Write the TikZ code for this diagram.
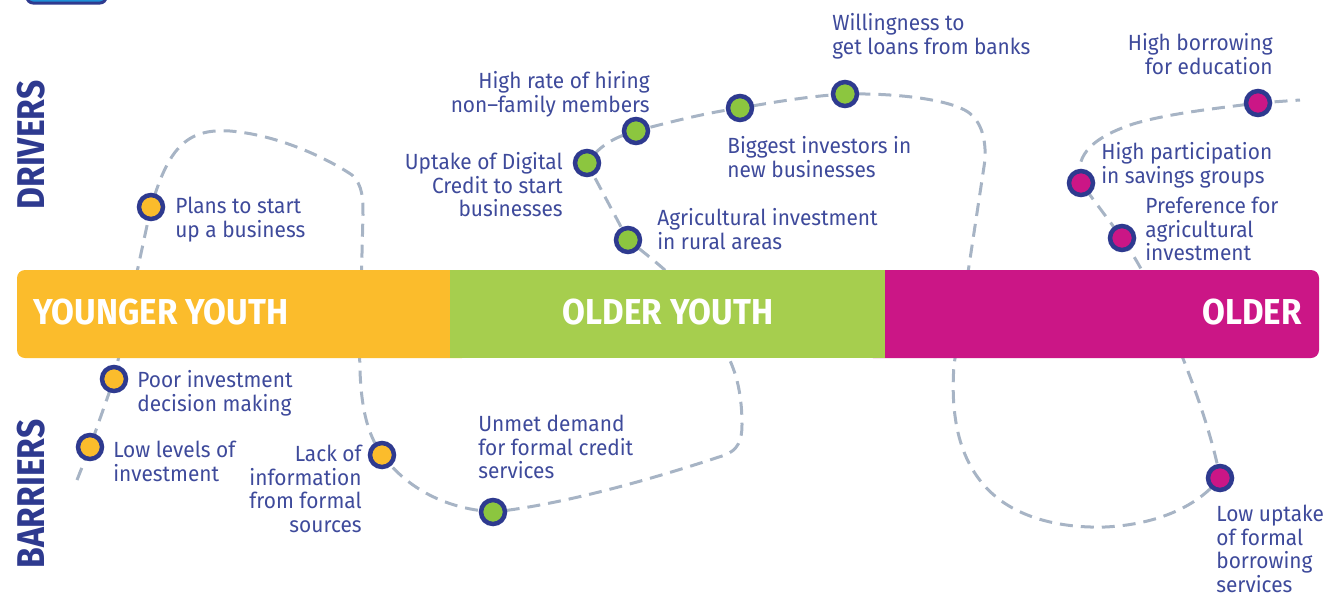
\documentclass[tikz,border=0pt]{standalone}
\usepackage{fontspec}
\setmainfont{Fira Sans}[FakeStretch=0.95]
\newfontfamily\headfont{Fira Sans}[FakeStretch=0.87]
\newfontfamily\barfont{Fira Sans}[FakeStretch=0.92]
\usetikzlibrary{backgrounds}
\definecolor{YYellow}{HTML}{FBBC2C}
\definecolor{OYGreen}{HTML}{A6CE4E}
\definecolor{OMagenta}{HTML}{CB1686}
\definecolor{DotGreen}{HTML}{8CC63F}
\definecolor{RingBlue}{HTML}{2E3A8F}
\definecolor{TextBlue}{HTML}{3E4A9B}
\definecolor{TrailGrey}{HTML}{A7B4C5}
\definecolor{TabBlue}{HTML}{1F8FD6}
\tikzset{
    milestone/.style = {draw=RingBlue, circle, line width=0.09cm,
        inner sep=0pt,
        minimum size=0.48cm},
    note/.style = {text=TextBlue, inner sep=0pt, font=\fontsize{12.5}{13.4}\selectfont},
    trail/.style = {draw=TrailGrey, line width=0.06cm, dash pattern=on 0.26cm off 0.16cm},
    agehead/.style = {text=white, inner sep=0pt, font=\barfont\bfseries\fontsize{20.5}{24}\selectfont},
    sidehead/.style = {text=RingBlue, inner sep=0pt, rotate=90, font=\headfont\bfseries\fontsize{22}{26}\selectfont}
}

\begin{document}
\begin{tikzpicture}[x=0.02cm,y=-0.02cm]
            \useasboundingbox (0,0) rectangle (1326,599);
            \begin{scope}
            \clip (0,0) rectangle (1326,599);
            \draw[RingBlue, fill=TabBlue, line width=0.06cm, rounded corners=0.12cm] (27,-20) rectangle (106,3);
            \end{scope}
            \fill[YYellow, rounded corners=0.16cm] (17,270) rectangle (470,358);
            \fill[OMagenta, rounded corners=0.16cm] (865,270) rectangle (1319,358);
            \fill[OYGreen] (450,270) rectangle (885,358);
            \node[agehead, anchor=west] (younger) at (33,312) {YOUNGER YOUTH};
            \node[agehead] (olderyouth) at (668,312) {OLDER YOUTH};
            \node[agehead, anchor=east] (older) at (1302,312) {OLDER};
            \node[sidehead] (drivers) at (31,145) {DRIVERS};
            \node[sidehead] (barriers) at (31,494) {BARRIERS};
            \node[milestone, fill=YYellow] (plans) at (151,207) {};
            \node[milestone, fill=YYellow] (poor) at (114,379) {};
            \node[milestone, fill=YYellow] (lowlev) at (90,447) {};
            \node[milestone, fill=YYellow] (lack) at (382,455) {};
            \node[milestone, fill=DotGreen] (uptake) at (587,163) {};
            \node[milestone, fill=DotGreen] (hiring) at (636,131) {};
            \node[milestone, fill=DotGreen] (biggest) at (740,108) {};
            \node[milestone, fill=DotGreen] (willing) at (845,94) {};
            \node[milestone, fill=DotGreen] (agri) at (628,240) {};
            \node[milestone, fill=DotGreen] (unmet) at (493,512) {};
            \node[milestone, fill=OMagenta] (borrow) at (1258,103) {};
            \node[milestone, fill=OMagenta] (partic) at (1081,183) {};
            \node[milestone, fill=OMagenta] (pref) at (1122,238) {};
            \node[milestone, fill=OMagenta] (lowup) at (1220,478) {};
            \coordinate (trailstart) at (77,480);
            \coordinate (trailend) at (1300,100);
            \begin{scope}[on background layer]
            \draw[trail] (trailstart) -- (lowlev.center) -- (poor.center) -- (plans.center)
                .. controls (168,150) and (185,128) .. (230,131)
                .. controls (280,135) and (330,160) .. (352,175)
                .. controls (363,185) and (363,200) .. (363,215)
                -- (360,330)
                .. controls (358,400) and (365,430) .. (lack.center)
                .. controls (405,485) and (440,508) .. (unmet.center)
                .. controls (560,505) and (650,480) .. (725,455)
                .. controls (738,450) and (742,440) .. (742,425)
                .. controls (742,390) and (735,370) .. (726,352)
                .. controls (705,305) and (680,280) .. (agri.center)
                -- (uptake.center)
                .. controls (600,145) and (615,137) .. (hiring.center)
                .. controls (670,122) and (705,113) .. (biggest.center)
                .. controls (775,102) and (810,96) .. (willing.center)
                .. controls (900,93) and (950,100) .. (968,112)
                .. controls (982,122) and (986,140) .. (985,160)
                -- (954,365)
                .. controls (950,420) and (960,470) .. (1000,500)
                .. controls (1030,522) and (1070,528) .. (1105,527)
                .. controls (1150,525) and (1195,510) .. (lowup.center)
                .. controls (1210,420) and (1165,300) .. (pref.center)
                -- (partic.center)
                .. controls (1075,160) and (1085,140) .. (1133,124)
                .. controls (1170,113) and (1220,108) .. (borrow.center)
                -- (trailend);
            \end{scope}
            \node[note, anchor=north west, align=left] (plansT) at (175,197) {Plans to start\\up a business};
            \node[note, anchor=north west, align=left] (poorT) at (137,370) {Poor investment\\decision making};
            \node[note, anchor=north west, align=left] (lowlevT) at (113,441) {Low levels of\\investment};
            \node[note, anchor=north east, align=right] (lackT) at (362,445) {Lack of\\information\\from formal\\sources};
            \node[note, anchor=north west, align=left] (unmetT) at (478,415) {Unmet demand\\for formal credit\\services};
            \node[note, anchor=north east, align=right] (uptakeT) at (563,152) {Uptake of Digital\\Credit to start\\businesses};
            \node[note, anchor=north east, align=right] (hiringT) at (650,71) {High rate of hiring\\non–family members};
            \node[note, anchor=north west, align=left] (biggestT) at (727,136) {Biggest investors in\\new businesses};
            \node[note, anchor=north west, align=left] (willingT) at (832,13) {Willingness to\\get loans from banks};
            \node[note, anchor=north west, align=left] (agriT) at (657,208) {Agricultural investment\\in rural areas};
            \node[note, anchor=north east, align=right] (borrowT) at (1273,33) {High borrowing\\for education};
            \node[note, anchor=north west, align=left] (particT) at (1101,142) {High participation\\in savings groups};
            \node[note, anchor=north west, align=left] (prefT) at (1145,197) {Preference for\\agricultural\\investment};
            \node[note, anchor=north west, align=left] (lowupT) at (1216,505) {Low uptake\\of formal\\borrowing\\services};
\end{tikzpicture}
\end{document}
